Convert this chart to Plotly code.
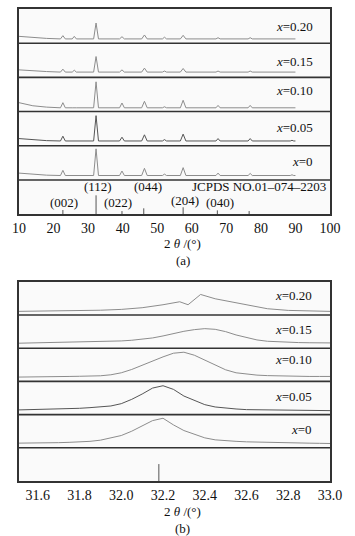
import plotly.graph_objects as go

# ---------------- data: panel (a) ----------------
samples = ["x=0", "x=0.05", "x=0.10", "x=0.15", "x=0.20"]
labels_html = ["<i>x</i>=0", "<i>x</i>=0.05", "<i>x</i>=0.10", "<i>x</i>=0.15", "<i>x</i>=0.20"]

two_theta_a = [10, 14, 18, 22.0, 22.7, 23.4, 25.4, 26.0, 26.6, 31.6, 32.3, 33.0,
               39.1, 39.8, 40.5, 45.5, 46.3, 47.1, 51.5, 52.1, 52.7, 56.7, 57.5, 58.3,
               67.0, 67.6, 68.2, 76.3, 76.9, 77.5, 88.5, 89.0, 89.5, 90]

int_a_000 = [0.20, 0.16, 0.14, 0.13, 0.28, 0.13, 0.13, 0.14, 0.13, 0.13, 0.91, 0.13,
             0.13, 0.26, 0.13, 0.13, 0.34, 0.13, 0.13, 0.17, 0.13, 0.13, 0.36, 0.13,
             0.13, 0.20, 0.13, 0.13, 0.19, 0.13, 0.13, 0.15, 0.13, 0.13]
int_a_005 = [0.21, 0.17, 0.15, 0.14, 0.28, 0.14, 0.14, 0.15, 0.14, 0.14, 0.88, 0.14,
             0.14, 0.25, 0.14, 0.14, 0.32, 0.14, 0.14, 0.18, 0.14, 0.14, 0.34, 0.14,
             0.14, 0.21, 0.14, 0.14, 0.21, 0.14, 0.14, 0.16, 0.14, 0.14]
int_a_010 = [0.26, 0.17, 0.13, 0.11, 0.26, 0.11, 0.11, 0.12, 0.11, 0.11, 0.87, 0.11,
             0.11, 0.25, 0.11, 0.11, 0.30, 0.11, 0.11, 0.14, 0.11, 0.11, 0.33, 0.11,
             0.11, 0.18, 0.11, 0.11, 0.18, 0.11, 0.11, 0.12, 0.11, 0.11]
int_a_015 = [0.22, 0.19, 0.17, 0.155, 0.24, 0.155, 0.155, 0.21, 0.155, 0.155, 0.61, 0.155,
             0.155, 0.22, 0.155, 0.155, 0.27, 0.155, 0.155, 0.185, 0.155, 0.155, 0.26, 0.155,
             0.155, 0.185, 0.155, 0.155, 0.185, 0.155, 0.155, 0.165, 0.155, 0.155]
int_a_020 = [0.20, 0.16, 0.14, 0.125, 0.22, 0.125, 0.125, 0.20, 0.125, 0.125, 0.59, 0.125,
             0.125, 0.19, 0.125, 0.125, 0.24, 0.125, 0.125, 0.175, 0.125, 0.125, 0.23, 0.125,
             0.125, 0.16, 0.125, 0.125, 0.16, 0.125, 0.125, 0.14, 0.125, 0.125]

ref_pos_a = [22.7, 32.3, 39.8, 46.1, 57.5, 67.4, 76.6]
ref_h_a = [0.12, 0.55, 0.09, 0.17, 0.20, 0.11, 0.09]
ref_labels = ["(002)", "(112)", "(022)", "(044)", "(204)", "(040)"]
ref_label_x = [22.9, 33.0, 38.7, 47.2, 57.9, 68.1]
ref_label_y = [0.35, 0.82, 0.35, 0.82, 0.41, 0.35]
jcpds = "JCPDS NO.01\u2013074\u20132203"

# ---------------- data: panel (b) ----------------
two_theta_b = [31.50, 31.55, 31.60, 31.65, 31.70, 31.75, 31.80, 31.85, 31.90, 31.95,
               32.00, 32.05, 32.10, 32.15, 32.20, 32.25, 32.30, 32.35, 32.40, 32.45,
               32.50, 32.55, 32.60, 32.65, 32.70, 32.75, 32.80, 32.85, 32.90, 32.95, 33.00]
int_b_000 = [0.14, 0.14, 0.145, 0.15, 0.155, 0.165, 0.175, 0.195, 0.23, 0.29,
             0.37, 0.50, 0.66, 0.82, 0.89, 0.69, 0.52, 0.40, 0.30, 0.24,
             0.21, 0.195, 0.18, 0.17, 0.16, 0.155, 0.15, 0.145, 0.14, 0.135, 0.13]
int_b_005 = [0.14, 0.145, 0.15, 0.155, 0.165, 0.175, 0.19, 0.21, 0.235, 0.26,
             0.33, 0.46, 0.62, 0.80, 0.87, 0.76, 0.56, 0.42, 0.30, 0.23,
             0.19, 0.17, 0.15, 0.145, 0.14, 0.135, 0.13, 0.13, 0.125, 0.12, 0.12]
int_b_010 = [0.13, 0.13, 0.135, 0.14, 0.145, 0.15, 0.155, 0.16, 0.17, 0.20,
             0.26, 0.36, 0.49, 0.61, 0.74, 0.85, 0.88, 0.79, 0.64, 0.49,
             0.35, 0.26, 0.22, 0.19, 0.175, 0.165, 0.16, 0.155, 0.15, 0.15, 0.15]
int_b_015 = [0.15, 0.155, 0.16, 0.165, 0.17, 0.175, 0.18, 0.185, 0.19, 0.20,
             0.22, 0.24, 0.27, 0.31, 0.37, 0.45, 0.51, 0.56, 0.59, 0.57,
             0.50, 0.40, 0.32, 0.25, 0.21, 0.19, 0.175, 0.17, 0.165, 0.16, 0.16]
two_theta_b_020 = [31.50, 31.60, 31.70, 31.80, 31.90, 32.00, 32.10, 32.20, 32.28, 32.32,
                   32.38, 32.45, 32.50, 32.60, 32.70, 32.80, 32.90, 33.00]
int_b_020 = [0.11, 0.115, 0.12, 0.13, 0.145, 0.17, 0.22, 0.31, 0.40, 0.31,
             0.62, 0.49, 0.43, 0.29, 0.19, 0.14, 0.12, 0.11]
ref_pos_b = [32.18]
ref_h_b = [0.51]

label_y_a = [0.54, 0.53, 0.61, 0.46, 0.48]
label_y_b = [0.55, 0.55, 0.66, 0.55, 0.58]

# ---------------- figure ----------------
SERIF = "Liberation Serif"
LINE_C = ["#8c8c8c", "#555555", "#8c8c8c", "#8c8c8c", "#8c8c8c"]
BORDER = "#333333"

fig = go.Figure()

ys_a = [int_a_000, int_a_005, int_a_010, int_a_015, int_a_020]
for i, vals in enumerate(ys_a):
    fig.add_trace(go.Scatter(x=two_theta_a, y=[v + i + 1 for v in vals], mode="lines",
                             line=dict(color=LINE_C[i], width=1), xaxis="x", yaxis="y",
                             showlegend=False, hoverinfo="skip"))

rx, ry = [], []
for p, h in zip(ref_pos_a, ref_h_a):
    rx += [p, p, None]
    ry += [0, h, None]
fig.add_trace(go.Scatter(x=rx, y=ry, mode="lines", line=dict(color="#555555", width=1),
                         xaxis="x", yaxis="y", showlegend=False, hoverinfo="skip"))

xs_b = [two_theta_b, two_theta_b, two_theta_b, two_theta_b, two_theta_b_020]
ys_b = [int_b_000, int_b_005, int_b_010, int_b_015, int_b_020]
for i, (xv, vals) in enumerate(zip(xs_b, ys_b)):
    fig.add_trace(go.Scatter(x=xv, y=[v + i + 1 for v in vals], mode="lines",
                             line=dict(color=LINE_C[i], width=1), xaxis="x2", yaxis="y2",
                             showlegend=False, hoverinfo="skip"))
rx, ry = [], []
for p, h in zip(ref_pos_b, ref_h_b):
    rx += [p, p, None]
    ry += [0, h, None]
fig.add_trace(go.Scatter(x=rx, y=ry, mode="lines", line=dict(color="#555555", width=1),
                         xaxis="x2", yaxis="y2", showlegend=False, hoverinfo="skip"))

# band separators
for yref, xref in (("y", "x domain"), ("y2", "x2 domain")):
    for k in range(1, 6):
        fig.add_shape(type="line", xref=xref, yref=yref, x0=0, x1=1, y0=k, y1=k,
                      line=dict(color=BORDER, width=1.6))

anns = []
for i, t in enumerate(labels_html):
    anns.append(dict(text=t, xref="x domain", yref="y", x=0.952, y=i + 1 + label_y_a[i],
                     xanchor="right", yanchor="middle", showarrow=False,
                     font=dict(family=SERIF, size=13, color="#111")))
    anns.append(dict(text=t, xref="x2 domain", yref="y2", x=0.95, y=i + 1 + label_y_b[i],
                     xanchor="right", yanchor="middle", showarrow=False,
                     font=dict(family=SERIF, size=13, color="#111")))
for t, x, y in zip(ref_labels, ref_label_x, ref_label_y):
    anns.append(dict(text=t, xref="x", yref="y", x=x, y=y, showarrow=False,
                     xanchor="center", yanchor="middle",
                     font=dict(family=SERIF, size=13, color="#111")))
anns.append(dict(text=jcpds, xref="x", yref="y", x=99.3, y=0.82, showarrow=False,
                 xanchor="right", yanchor="middle",
                 font=dict(family=SERIF, size=13, color="#111")))
# axis titles and panel captions
for txt, y in (("2 <i>θ</i> /(°)", 242), ("(a)", 260), ("2 <i>θ</i> /(°)", 512), ("(b)", 529)):
    anns.append(dict(text=txt, xref="paper", yref="paper",
                     x=(183 - 19) / 311, y=(481 - y) / 474, showarrow=False,
                     xanchor="center", yanchor="middle",
                     font=dict(family=SERIF, size=13, color="#111")))

axis_common = dict(showline=True, mirror=True, linecolor=BORDER, linewidth=1.6,
                   showgrid=False, zeroline=False, ticks="", ticklen=0,
                   tickfont=dict(family=SERIF, size=14, color="#111"))

fig.update_layout(
    width=355, height=536,
    margin=dict(l=19, r=25, t=7, b=55),
    paper_bgcolor="white", plot_bgcolor="#fafafa",
    showlegend=False,
    xaxis=dict(domain=[0, 1], range=[10, 100], dtick=10, tick0=10, anchor="y", **axis_common),
    yaxis=dict(domain=[(481 - 213) / 474, 1], range=[0, 6], showticklabels=False,
               anchor="x", **axis_common),
    xaxis2=dict(domain=[0, 1], range=[31.51, 33.0], dtick=0.2, tick0=31.6, tickformat=".1f",
                anchor="y2", **axis_common),
    yaxis2=dict(domain=[0, (481 - 281) / 474], range=[0, 6], showticklabels=False,
                anchor="x2", **axis_common),
    annotations=anns,
)

fig.write_html("out.html", config={"displayModeBar": False},
               post_script="document.body.style.margin='0';document.body.style.overflow='hidden';")
